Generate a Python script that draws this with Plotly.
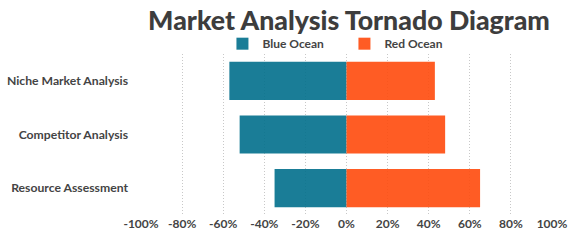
import plotly.graph_objects as go

categories = ["Niche Market Analysis", "Competitor Analysis", "Resource Assessment"]
blue_ocean = [-0.57, -0.52, -0.35]
red_ocean = [0.43, 0.48, 0.65]
tick_vals = [-1.0, -0.8, -0.6, -0.4, -0.2, 0.0, 0.2, 0.4, 0.6, 0.8, 1.0]
tick_text = ["-100%", "-80%", "-60%", "-40%", "-20%", "0%", "20%", "40%", "60%", "80%", "100%"]

font_family = "Lato, 'Open Sans', sans-serif"
text_color = "#444444"

fig = go.Figure()
fig.add_trace(go.Bar(
    y=categories, x=blue_ocean, orientation="h", name="Blue Ocean",
    marker=dict(color="#02708c", line=dict(width=0)), opacity=0.9,
))
fig.add_trace(go.Bar(
    y=categories, x=red_ocean, orientation="h", name="Red Ocean",
    marker=dict(color="#ff4b0d", line=dict(width=0)), opacity=0.9,
))

fig.update_layout(
    width=568, height=242,
    barmode="relative",
    bargap=0.29,
    margin=dict(l=141, r=16, t=54, b=27, autoexpand=False),
    paper_bgcolor="white",
    plot_bgcolor="white",
    font=dict(family=font_family, color=text_color, size=12, weight="bold"),
    title=dict(
        text="Market Analysis Tornado Diagram",
        font=dict(family=font_family, size=26.7, color="#3d3d3d", weight=900),
        x=0.6144, xanchor="center", xref="container",
        y=0.915, yanchor="middle", yref="container",
    ),
    legend=dict(
        orientation="h", x=0.495, xanchor="center", y=0.974, yanchor="bottom",
        font=dict(family=font_family, size=12, color=text_color, weight="bold"),
        bgcolor="rgba(0,0,0,0)",
        itemwidth=30,
        entrywidth=77,
    ),
    showlegend=True,
)

fig.update_xaxes(
    range=[-1.0, 1.0],
    tickvals=tick_vals, ticktext=tick_text,
    showgrid=True, gridcolor="#c8c8c8", griddash="1px,2px", gridwidth=1,
    zeroline=False, showline=False, automargin=False,
    tickfont=dict(family=font_family, size=12, color=text_color, weight="bold"),
)
fig.update_yaxes(
    categoryorder="array", categoryarray=categories[::-1],
    showgrid=False, zeroline=False, showline=False, automargin=False,
    ticklabelstandoff=12,
    tickfont=dict(family=font_family, size=12.2, color=text_color, weight="bold"),
)

fig.write_html(
    "out.html",
    config={"displayModeBar": False},
    post_script="document.body.style.margin='0';document.body.style.overflow='hidden';",
)
